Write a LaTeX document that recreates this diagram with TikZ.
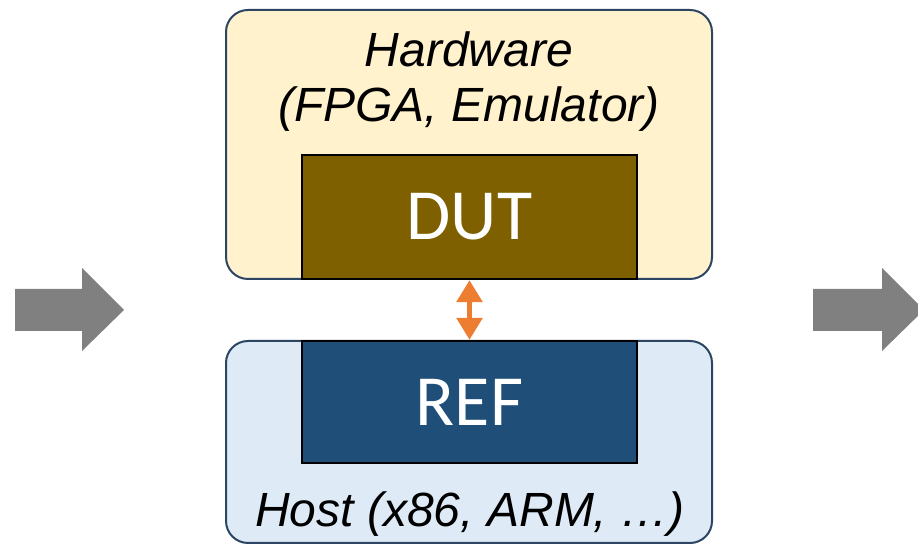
\documentclass[tikz,border=0pt]{standalone}
\usepackage{fontspec}
\setmainfont{Liberation Sans}
\newfontfamily\calib{Carlito}
\usetikzlibrary{arrows.meta}
\definecolor{hwfill}{HTML}{FFF2CC}
\definecolor{hostfill}{HTML}{DEEBF7}
\definecolor{frameblue}{HTML}{2B4563}
\definecolor{dutfill}{HTML}{7F6000}
\definecolor{reffill}{HTML}{1F4E79}
\definecolor{linkorange}{HTML}{ED7D31}
\definecolor{flowgray}{HTML}{808080}
\tikzset{
  platform/.style={draw=frameblue, line width=2pt, rounded corners=22pt,
    minimum width=486pt, inner sep=0pt},
  unit/.style={draw=black, line width=2.2pt, minimum width=335pt,
    inner sep=0pt, text=white, font=\calib\fontsize{72}{80}\selectfont},
  caption/.style={font=\itshape\fontsize{48}{55}\selectfont, align=center, inner sep=0pt},
  flow/.style={fill=flowgray, draw=none},
  link/.style={draw=linkorange, line width=5.5pt,
    {Triangle[width=25pt,length=22pt]}-{Triangle[width=25pt,length=22pt]}}
}
\begin{document}
\begin{tikzpicture}[x=1pt,y=1pt]
\useasboundingbox (0,0) rectangle (918,545);
\clip (0,0) rectangle (918,545);

% platform frames
\node[platform, fill=hwfill, minimum height=269pt] (hw) at (469,400.5) {};
\node[platform, fill=hostfill, minimum height=202pt] (host) at (469,103) {};

% captions (base anchor sits on the last line)
\node[caption, anchor=base] (hwtext) at (469,423) {Hardware\\(FPGA, Emulator)};
\node[caption, anchor=base] (hosttext) at (470,18) {Host (x86, ARM, …)};

% design blocks
\node[unit, fill=dutfill, minimum height=124pt] (dut) at (469.5,328) {DUT};
\node[unit, fill=reffill, minimum height=122pt] (ref) at (469.5,143) {REF};

% link between DUT and REF
\draw[link] (dut.south) -- (ref.north);

% flow arrows on both sides
\fill[flow] (15,214) -- (82,214) -- (82,194) -- (124,235) -- (82,277) -- (82,256) -- (15,256) -- cycle;
\fill[flow] (813,214) -- (882,214) -- (882,194) -- (924,235) -- (882,277) -- (882,256) -- (813,256) -- cycle;
\end{tikzpicture}
\end{document}
